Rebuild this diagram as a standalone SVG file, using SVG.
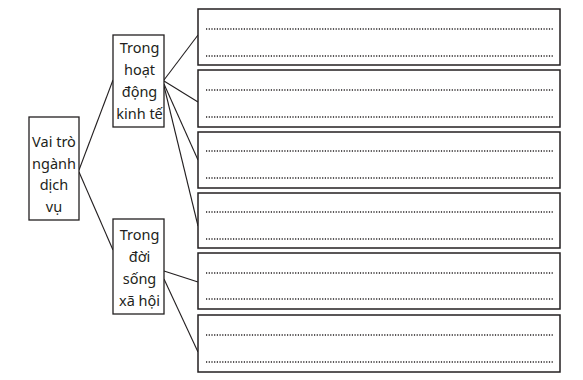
<svg xmlns="http://www.w3.org/2000/svg" width="583" height="380" viewBox="0 0 583 380">
<style>
.box{fill:#fff;stroke:#231f20;stroke-width:1.3}
.rbox{fill:#fff;stroke:#231f20;stroke-width:1.5}
.dot{stroke:#231f20;stroke-width:1.4;stroke-dasharray:1.2 1.5;fill:none}
.con{stroke:#231f20;stroke-width:1.1;fill:none}
text{font-family:"Noto Sans","Open Sans","Liberation Sans",sans-serif;font-size:14.5px;fill:#231f20;text-anchor:middle}
</style>
<rect width="583" height="380" fill="#fff"/>
<g id="connectors">
<line class="con" x1="79" y1="170" x2="113" y2="80"/>
<line class="con" x1="79" y1="172" x2="113" y2="250"/>
<line class="con" x1="164" y1="80" x2="198" y2="35"/>
<line class="con" x1="164" y1="81" x2="198" y2="102"/>
<line class="con" x1="164" y1="84" x2="198" y2="160"/>
<line class="con" x1="164" y1="86" x2="198" y2="226"/>
<line class="con" x1="164" y1="271" x2="198" y2="282"/>
<line class="con" x1="164" y1="279" x2="198" y2="352"/>
</g>
<g id="node-root">
<rect class="box" x="29" y="117" width="50" height="103"/>
<text x="54" y="147">Vai trò</text>
<text x="54" y="168.5">ngành</text>
<text x="54" y="190">dịch</text>
<text x="54" y="211.5">vụ</text>
</g>
<g id="node-kinhte">
<rect class="box" x="113" y="35" width="51" height="92"/>
<text x="139.5" y="53">Trong</text>
<text x="139.5" y="75">hoạt</text>
<text x="139.5" y="97">động</text>
<text x="139.5" y="119">kinh tế</text>
</g>
<g id="node-doisong">
<rect class="box" x="113" y="219" width="51" height="95"/>
<text x="139.5" y="240">Trong</text>
<text x="139.5" y="262">đời</text>
<text x="139.5" y="284">sống</text>
<text x="139.5" y="306">xã hội</text>
</g>
<g id="node-r1">
<rect class="rbox" x="198" y="9" width="362" height="56"/>
<line class="dot" x1="206" y1="29" x2="553" y2="29"/>
<line class="dot" x1="206" y1="56" x2="553" y2="56"/>
</g>
<g id="node-r2">
<rect class="rbox" x="198" y="70" width="362" height="57"/>
<line class="dot" x1="206" y1="90" x2="553" y2="90"/>
<line class="dot" x1="206" y1="117" x2="553" y2="117"/>
</g>
<g id="node-r3">
<rect class="rbox" x="198" y="132" width="362" height="56"/>
<line class="dot" x1="206" y1="151" x2="553" y2="151"/>
<line class="dot" x1="206" y1="178" x2="553" y2="178"/>
</g>
<g id="node-r4">
<rect class="rbox" x="198" y="193" width="362" height="55"/>
<line class="dot" x1="206" y1="212" x2="553" y2="212"/>
<line class="dot" x1="206" y1="239" x2="553" y2="239"/>
</g>
<g id="node-r5">
<rect class="rbox" x="198" y="253" width="362" height="56"/>
<line class="dot" x1="206" y1="273" x2="553" y2="273"/>
<line class="dot" x1="206" y1="299" x2="553" y2="299"/>
</g>
<g id="node-r6">
<rect class="rbox" x="198" y="315" width="362" height="57"/>
<line class="dot" x1="206" y1="335" x2="553" y2="335"/>
<line class="dot" x1="206" y1="362" x2="553" y2="362"/>
</g>
</svg>
